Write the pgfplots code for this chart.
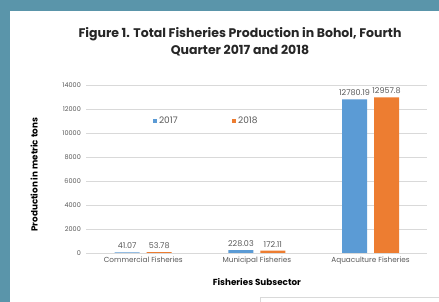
\documentclass[border=0pt]{standalone}
\usepackage{fontspec}
\setmainfont{Poppins}
\usepackage{pgfplots}
\pgfplotsset{compat=1.18}
\definecolor{bgteal}{RGB}{90,149,170}
\definecolor{barblue}{RGB}{91,155,213}
\definecolor{barorange}{RGB}{237,125,49}
\definecolor{gridgray}{RGB}{217,217,217}
\definecolor{txtgray}{RGB}{89,89,89}
\begin{document}
\begin{tikzpicture}[x=1pt,y=1pt]
\useasboundingbox (0,0) rectangle (439,302);
\fill[bgteal] (0,0) rectangle (439,302);
\fill[white] (10,0) rectangle (439,291);
\draw[gridgray,line width=0.8pt] (260,-2) rectangle (445,5);
\node[font=\bfseries\fontsize{12.5}{17}\selectfont,align=center,text=black!85] at (240,260)
  {Figure 1. Total Fisheries Production in Bohol, Fourth\\Quarter 2017 and 2018};
\begin{axis}[
  at={(76,41)}, anchor=south west,
  scale only axis, width=341pt, height=168pt,
  ybar, bar width=25pt,
  ymin=0, ymax=14000,
  xmin=-0.5, xmax=2.5,
  xtick=data,
  xticklabels={Commercial Fisheries, Municipal Fisheries, Aquaculture Fisheries},
  ytick={0,2000,...,14000},
  scaled y ticks=false,
  yticklabel style={/pgf/number format/1000 sep={}, font=\fontsize{6.5}{8}\selectfont, text=txtgray, xshift=-2pt},
  xticklabel style={font=\fontsize{7.3}{9}\selectfont, text=txtgray, yshift=-1pt},
  /pgf/number format/assume math mode=true,
  axis x line*=bottom, axis y line*=left,
  x axis line style={gridgray, -},
  y axis line style={draw=none},
  major tick length=0pt,
  ymajorgrids, grid style={gridgray, line width=0.5pt},
  xlabel={Fisheries Subsector},
  xlabel style={font=\bfseries\fontsize{8.8}{10}\selectfont, yshift=-7pt},
  ylabel={Production in metric tons},
  ylabel style={font=\bfseries\fontsize{8.8}{10}\selectfont, yshift=18pt, xshift=-6pt},
  nodes near coords,
  nodes near coords style={font=\fontsize{8}{10}\selectfont, text=txtgray},
  point meta=explicit symbolic,
  legend style={at={(0.185,0.786)}, anchor=west, draw=none, fill=none,
    font=\fontsize{9}{10}\selectfont, text=txtgray, legend columns=2,
    /tikz/every even column/.append style={column sep=52pt}},
  legend image code/.code={\fill[#1] (0pt,-2.2pt) rectangle (4.4pt,2.2pt);},
  clip=false,
]
\addplot[fill=barblue, draw=none, bar shift=-16pt] coordinates {(0,41.07) [41.07] (1,228.03) [228.03] (2,12780.19) [12780.19]};
\addplot[fill=barorange, draw=none, bar shift=16pt] coordinates {(0,53.78) [53.78] (1,172.11) [172.11] (2,12957.8) [12957.8]};
\legend{2017,2018}
\end{axis}
\end{tikzpicture}
\end{document}
